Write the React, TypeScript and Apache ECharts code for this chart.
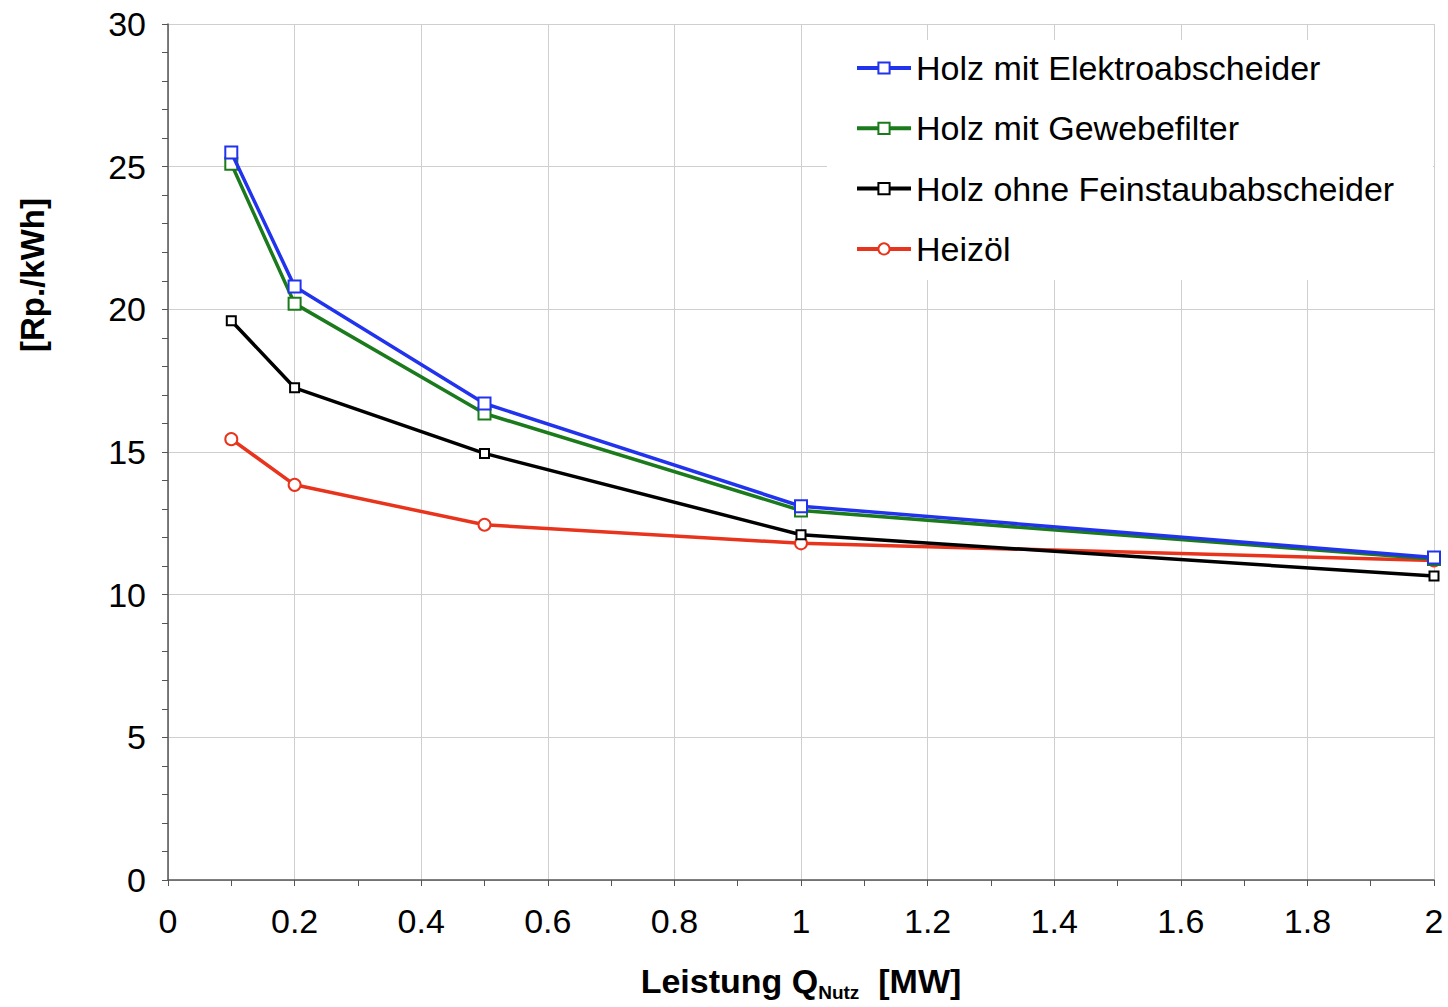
import React, { useEffect, useRef } from "react";
import * as echarts from "echarts";

// Output power Q_Nutz in MW
const leistung = [0.1, 0.2, 0.5, 1, 2];

// Heat production cost in Rp./kWh
const holzElektro = [25.5, 20.8, 16.7, 13.1, 11.3];
const holzGewebe = [25.1, 20.2, 16.35, 12.95, 11.25];
const holzOhne = [19.6, 17.25, 14.95, 12.1, 10.65];
const heizoel = [15.45, 13.85, 12.45, 11.8, 11.2];

const seriesNames = [
  "Holz mit Elektroabscheider",
  "Holz mit Gewebefilter",
  "Holz ohne Feinstaubabscheider",
  "Heizöl",
];
const seriesColors = ["#2233ee", "#1b7a1b", "#000000", "#e8341c"];
const seriesSymbols = ["rect", "rect", "rect", "circle"];
const seriesSymbolSizes = [12, 12, 9, 12];

const FONT = "'Liberation Sans', Arial, Helvetica, sans-serif";

export default function App() {
  const ref = useRef<HTMLDivElement>(null);

  useEffect(() => {
    if (!ref.current) return;
    const chart = echarts.init(ref.current, undefined, { renderer: "svg" });
    const values = [holzElektro, holzGewebe, holzOhne, heizoel];

    chart.setOption({
      animation: false,
      backgroundColor: "#ffffff",
      textStyle: { fontFamily: FONT },
      grid: { left: 168, right: 14, top: 24, bottom: 121 },
      xAxis: {
        type: "value",
        min: 0,
        max: 2,
        interval: 0.2,
        name: "{b|Leistung Q}{s|Nutz}{b|  [MW]}",
        nameLocation: "middle",
        nameGap: 80,
        nameTextStyle: {
          rich: {
            b: { fontSize: 34, fontWeight: "bold", color: "#000", lineHeight: 42, fontFamily: FONT },
            s: { fontSize: 19, fontWeight: "bold", color: "#000", lineHeight: 19, verticalAlign: "bottom", fontFamily: FONT },
          },
        },
        axisLine: { show: true, lineStyle: { color: "#555", width: 1.5 } },
        axisTick: { show: true, inside: false, length: 6, lineStyle: { color: "#555" } },
        minorTick: { show: true, splitNumber: 2, length: 6, lineStyle: { color: "#555" } },
        splitLine: { show: true, lineStyle: { color: "#cfcfcf", width: 1 } },
        axisLabel: {
          fontSize: 34,
          color: "#000",
          margin: 24,
          fontFamily: FONT,
          formatter: (v: number) => String(+v.toFixed(1)),
        },
      },
      yAxis: {
        type: "value",
        min: 0,
        max: 30,
        interval: 5,
        axisLine: { show: true, lineStyle: { color: "#555", width: 1.5 } },
        axisTick: { show: true, inside: false, length: 6, lineStyle: { color: "#555" } },
        minorTick: { show: true, splitNumber: 5, length: 6, lineStyle: { color: "#555" } },
        splitLine: { show: true, lineStyle: { color: "#cfcfcf", width: 1 } },
        axisLabel: { fontSize: 34, color: "#000", margin: 22, fontFamily: FONT },
      },
      legend: {
        orient: "vertical",
        left: 850,
        top: 46,
        itemWidth: 54,
        itemHeight: 14,
        itemGap: 26.3,
        lineStyle: { width: 4 },
        textStyle: { fontSize: 34, color: "#000", fontFamily: FONT, lineHeight: 34 },
        data: seriesNames,
      },
      graphic: [
        {
          type: "rect",
          z: 1,
          shape: { x: 827, y: 40, width: 606, height: 240 },
          style: { fill: "#ffffff" },
        },
        {
          type: "text",
          x: 32,
          y: 275,
          rotation: Math.PI / 2,
          style: {
            text: "[Rp./kWh]",
            font: `bold 33px ${FONT}`,
            fill: "#000",
            align: "center",
            verticalAlign: "middle",
          },
        },
      ],
      series: seriesNames.map((name, i) => ({
        name,
        type: "line",
        data: leistung.map((x, j) => [x, values[i][j]]),
        symbol: seriesSymbols[i],
        symbolSize: seriesSymbolSizes[i],
        showAllSymbol: true,
        z: 10 - i,
        lineStyle: { color: seriesColors[i], width: 3.5 },
        itemStyle: { color: "#ffffff", borderColor: seriesColors[i], borderWidth: 2 },
      })),
    });

    return () => chart.dispose();
  }, []);

  return <div ref={ref} style={{ width: 1448, height: 1007, position: "absolute", left: 0, top: 0 }} />;
}
